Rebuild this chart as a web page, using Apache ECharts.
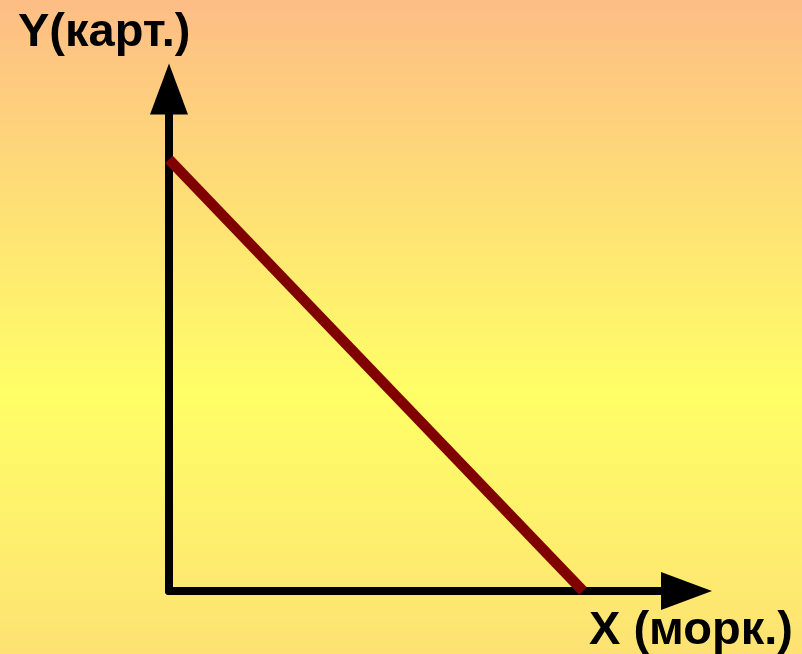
<!DOCTYPE html>
<html>
<head>
<meta charset="utf-8">
<script src="https://cdn.jsdelivr.net/npm/echarts@6/dist/echarts.min.js"></script>
<style>
  html, body { margin: 0; padding: 0; }
  #chart { width: 802px; height: 654px; }
</style>
</head>
<body>
<div id="chart"></div>
<script>
// line from the y axis down to the x axis
const xValues = [0, 8];
const yValues = [8.6, 0];
const yName = "Y(карт.)";
const xName = "X (морк.)";

const chart = echarts.init(document.getElementById("chart"));

const axisCommon = {
  type: "value",
  min: 0,
  max: 10,
  axisLine: {
    show: true,
    symbol: ["none", "triangle"],
    symbolSize: [38, 51],
    lineStyle: { color: "#000", width: 8 },
  },
  axisTick: { show: false },
  axisLabel: { show: false },
  splitLine: { show: false },
};

const option = {
  backgroundColor: {
    type: "linear",
    x: 0, y: 0, x2: 0, y2: 1,
    colorStops: [
      { offset: 0, color: "#fdbd86" },
      { offset: 0.6, color: "#ffff66" },
      { offset: 1, color: "#fde273" },
    ],
  },
  animation: false,
  grid: { left: 169, top: 89, right: 115.5, bottom: 63 },
  xAxis: Object.assign({}, axisCommon),
  yAxis: Object.assign({}, axisCommon),
  graphic: [
    {
      type: "text",
      left: 18,
      top: 10,
      style: {
        text: yName,
        font: "bold 47px 'Liberation Sans', Arial, sans-serif",
        fill: "#000",
      },
    },
    {
      type: "text",
      left: 589,
      top: 608,
      style: {
        text: xName,
        font: "bold 47px 'Liberation Sans', Arial, sans-serif",
        fill: "#000",
      },
    },
  ],
  series: [
    {
      type: "line",
      data: xValues.map((x, i) => [x, yValues[i]]),
      symbol: "none",
      clip: false,
      lineStyle: { color: "#800000", width: 10.5, cap: "butt" },
      z: 5,
    },
  ],
};

chart.setOption(option);
</script>
</body>
</html>
